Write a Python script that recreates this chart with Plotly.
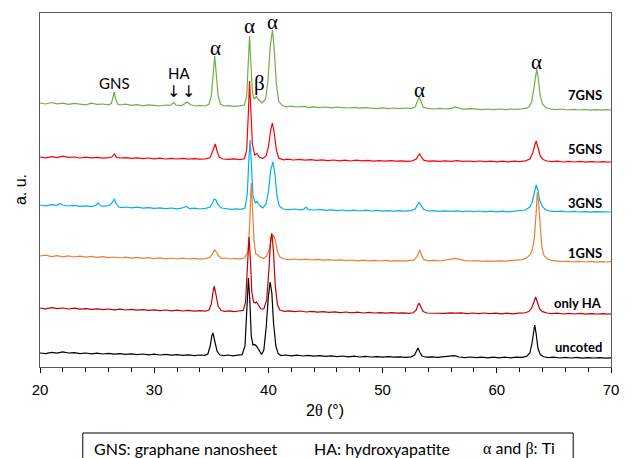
import plotly.graph_objects as go

# ---- data: (2theta, intensity above series baseline) ----
gns7 = [(20.0,7),(20.5,6),(21.0,7.5),(21.5,6.2),(22.0,6.8),(22.5,5.6),(23.0,6.6),(23.5,5.8),(24.0,5.2),(24.5,6.8),(25.0,5.6),(25.5,6.0),(26.0,5.2),(26.25,6.5),(26.4,13),(26.5,18),(26.6,12),(26.8,6),(27.0,5.0),(27.5,5.8),(28.0,4.6),(28.5,5.4),(29.0,4.2),(29.5,5.2),(30.0,4.6),(30.5,4.0),(31.0,5.0),(31.4,4.6),(31.7,7.5),(31.9,5.0),(32.4,4.4),(32.9,8.0),(33.2,5.2),(33.6,4.0),(34.0,4.6),(34.5,4.0),(34.8,6),(35.0,14),(35.15,34),(35.3,54),(35.45,34),(35.6,14),(35.8,6),(36.1,4),(36.5,4.4),(37.0,3.6),(37.5,4.2),(37.9,5),(38.1,14),(38.25,50),(38.35,74),(38.45,50),(38.6,18),(38.75,11),(38.95,13.5),(39.15,10),(39.45,7),(39.75,11),(39.95,28),(40.15,62),(40.35,80),(40.5,62),(40.7,26),(40.9,9),(41.2,4.5),(41.6,3.2),(42.0,3.8),(42.5,3.0),(43.0,3.6),(43.5,2.6),(44.0,3.2),(44.5,2.4),(45.0,3.0),(45.5,2.2),(46.0,3.0),(46.5,2.4),(47.0,2.0),(47.5,2.6),(48.0,1.8),(48.5,2.4),(49.0,1.8),(49.5,1.4),(50.0,2.2),(50.5,1.4),(51.0,2.0),(51.5,1.4),(52.0,2.0),(52.5,1.4),(52.85,3),(53.05,9),(53.2,13),(53.35,9),(53.55,3),(53.9,1.6),(54.5,1.0),(55.0,1.6),(55.5,1.0),(56.0,1.6),(56.4,3.0),(56.8,1.4),(57.2,0.8),(57.7,1.4),(58.2,0.8),(58.7,0.4),(59.2,1.0),(59.7,0.4),(60.2,1.0),(60.7,0.4),(61.2,1.0),(61.7,0.6),(62.2,1.2),(62.6,1.8),(62.85,3.5),(63.05,8),(63.25,22),(63.4,36),(63.5,41),(63.65,30),(63.8,14),(64.0,6),(64.3,2.4),(64.7,1.0),(65.2,0.4),(65.7,1.0),(66.2,0.0),(66.7,0.6),(67.2,0.0),(67.7,0.6),(68.2,-0.2),(68.7,0.4),(69.2,-0.2),(69.6,0.4),(70.0,0.0)]

gns5 = [(20.0,5),(20.5,4.2),(21.0,5.4),(21.5,4.4),(22.0,5.8),(22.5,4.6),(23.0,5.0),(23.5,4.0),(24.0,4.8),(24.5,4.2),(25.0,4.6),(25.5,3.8),(26.0,4.4),(26.3,5),(26.5,8),(26.7,4.6),(27.0,4.0),(27.5,4.4),(28.0,3.6),(28.5,4.2),(29.0,3.4),(29.5,4.0),(30.0,3.2),(30.5,3.8),(31.0,3.0),(31.5,3.6),(32.0,3.0),(32.5,3.6),(33.0,2.8),(33.5,3.4),(34.0,2.8),(34.5,3.2),(34.9,4.5),(35.1,10),(35.25,16),(35.35,18),(35.5,11),(35.7,5),(36.0,3),(36.5,2.6),(37.0,3.2),(37.5,2.4),(37.9,3.2),(38.1,12),(38.25,50),(38.35,81),(38.45,55),(38.6,18),(38.8,7),(39.0,8.5),(39.2,5),(39.5,3.5),(39.8,6),(40.0,15),(40.2,32),(40.35,39),(40.5,30),(40.7,12),(40.9,4),(41.3,2.2),(41.7,2.8),(42.2,2.0),(42.7,2.6),(43.2,1.8),(43.7,2.4),(44.2,1.6),(44.7,2.2),(45.2,1.4),(45.7,2.0),(46.2,1.2),(46.7,1.8),(47.2,1.0),(47.7,1.8),(48.2,1.2),(48.7,1.6),(49.2,0.8),(49.7,1.4),(50.2,0.8),(50.7,1.4),(51.2,0.8),(51.7,1.2),(52.2,0.6),(52.6,1.2),(52.95,3),(53.15,7),(53.25,8),(53.4,5),(53.6,1.8),(54.0,0.8),(54.5,1.2),(55.0,0.6),(55.5,1.2),(56.0,0.6),(56.5,1.4),(57.0,0.6),(57.5,1.0),(58.0,0.4),(58.5,1.0),(59.0,0.4),(59.5,0.8),(60.0,0.2),(60.5,0.8),(61.0,0.2),(61.5,0.8),(62.0,0.4),(62.5,1.2),(62.9,3),(63.15,9),(63.35,18),(63.45,21),(63.6,15),(63.8,6),(64.05,2.5),(64.4,1.0),(64.8,0.4),(65.3,0.8),(65.8,0.0),(66.3,0.6),(66.8,0.0),(67.3,0.6),(67.8,-0.2),(68.3,0.4),(68.8,0.0),(69.3,0.4),(69.7,-0.2),(70.0,0.0)]

gns3 = [(20.0,7),(20.5,6.2),(21.0,7.4),(21.5,6.6),(21.7,8.5),(22.0,7.0),(22.5,6.0),(23.0,6.6),(23.5,5.6),(24.0,6.2),(24.5,5.4),(24.9,6.8),(25.1,9),(25.3,6),(25.7,5.8),(26.1,6.5),(26.35,10),(26.5,13),(26.65,9),(26.9,5),(27.2,4.4),(27.6,5.0),(28.0,4.2),(28.5,4.8),(29.0,3.8),(29.5,4.4),(30.0,3.6),(30.5,4.2),(31.0,3.4),(31.5,4.0),(32.0,3.2),(32.4,3.8),(32.8,5.5),(33.1,3.4),(33.6,3.8),(34.0,3.0),(34.5,3.6),(34.9,5),(35.1,9),(35.25,13),(35.4,12),(35.6,7),(35.9,4),(36.3,3.4),(36.8,2.6),(37.2,3.2),(37.6,2.6),(37.95,4),(38.15,18),(38.3,55),(38.4,72),(38.5,50),(38.65,16),(38.85,9),(39.0,10.5),(39.2,7),(39.5,4),(39.8,8),(40.0,20),(40.2,42),(40.4,50),(40.55,40),(40.75,16),(40.95,6),(41.3,3.0),(41.8,2.4),(42.3,3.0),(42.8,2.2),(43.1,2.8),(43.3,5),(43.5,2.4),(44.0,2.0),(44.5,2.6),(45.0,1.6),(45.5,2.2),(46.0,1.4),(46.5,2.0),(47.0,1.2),(47.5,1.8),(48.0,1.0),(48.5,1.8),(49.0,1.0),(49.5,1.6),(50.0,0.8),(50.5,1.4),(51.0,0.8),(51.5,1.4),(52.0,0.8),(52.5,1.4),(52.85,3),(53.05,8),(53.2,10),(53.35,7),(53.6,2.4),(54.0,1.0),(54.5,1.4),(55.0,0.6),(55.5,1.2),(56.0,0.6),(56.5,1.2),(57.0,0.4),(57.5,1.0),(58.0,0.4),(58.5,1.0),(59.0,0.2),(59.5,0.8),(60.0,0.2),(60.5,0.8),(61.0,0.2),(61.5,0.8),(62.0,0.8),(62.5,2.0),(62.9,5),(63.1,10),(63.3,20),(63.45,27),(63.6,22),(63.75,12),(64.0,5),(64.3,2.2),(64.7,0.8),(65.2,0.4),(65.7,0.8),(66.2,0.0),(66.7,0.6),(67.2,0.0),(67.7,0.4),(68.2,-0.2),(68.7,0.4),(69.2,0.0),(69.6,0.4),(70.0,0.0)]

gns1 = [(20.0,6),(20.5,6.8),(21.0,5.4),(21.5,6.4),(22.0,5.2),(22.5,6.2),(23.0,5.0),(23.5,5.8),(24.0,4.8),(24.5,5.6),(25.0,4.6),(25.5,5.4),(26.0,4.4),(26.5,5.0),(27.0,4.0),(27.5,4.8),(28.0,3.8),(28.5,4.6),(29.0,3.6),(29.5,4.4),(30.0,3.4),(30.5,4.2),(31.0,3.2),(31.5,4.0),(32.0,3.0),(32.5,3.8),(33.0,3.0),(33.5,3.6),(34.0,2.8),(34.5,3.4),(34.9,5),(35.15,9),(35.3,12),(35.45,10),(35.65,6),(35.9,3.6),(36.3,4.0),(36.7,3.0),(37.1,3.6),(37.5,2.8),(37.9,4),(38.2,10),(38.35,35),(38.5,79),(38.6,60),(38.75,20),(38.9,8),(39.05,7.5),(39.25,5),(39.55,3.5),(39.85,6),(40.05,12),(40.25,22),(40.45,27),(40.6,22),(40.8,10),(41.0,5),(41.4,3.0),(41.8,2.4),(42.3,3.0),(42.8,2.2),(43.3,2.8),(43.8,2.0),(44.3,2.6),(44.8,1.8),(45.3,2.4),(45.8,1.6),(46.3,2.2),(46.8,1.4),(47.3,2.0),(47.8,1.2),(48.3,1.8),(48.8,1.2),(49.3,1.6),(49.8,1.0),(50.3,1.6),(50.8,0.8),(51.3,1.4),(51.8,0.8),(52.3,1.4),(52.7,1.8),(53.0,5),(53.15,10),(53.25,12),(53.4,7),(53.6,2.6),(54.0,1.2),(54.5,1.6),(55.0,1.0),(55.5,1.8),(56.0,2.6),(56.4,3.6),(56.8,2.4),(57.2,1.4),(57.7,1.0),(58.2,1.4),(58.7,0.6),(59.2,1.2),(59.7,0.6),(60.2,1.2),(60.7,0.8),(61.2,1.4),(61.7,1.4),(62.2,2.4),(62.6,4),(62.9,7),(63.1,12),(63.3,25),(63.45,50),(63.55,70),(63.65,60),(63.8,32),(63.95,14),(64.15,6),(64.45,3),(64.8,1.6),(65.2,1.0),(65.7,0.4),(66.2,0.8),(66.7,0.0),(67.2,0.6),(67.7,0.0),(68.2,0.6),(68.7,-0.2),(69.2,0.4),(69.6,0.0),(70.0,0.4)]

only_ha = [(20.0,6),(20.5,5.2),(21.0,6.4),(21.5,5.4),(22.0,6.0),(22.5,5.0),(23.0,5.8),(23.5,4.8),(24.0,5.4),(24.5,4.6),(25.0,5.2),(25.5,4.4),(26.0,5.0),(26.5,4.2),(27.0,4.8),(27.5,4.0),(28.0,4.6),(28.5,3.8),(29.0,4.4),(29.5,3.6),(30.0,4.2),(30.5,3.4),(31.0,4.0),(31.5,3.2),(32.0,3.8),(32.5,3.0),(33.0,3.6),(33.5,2.8),(34.0,3.4),(34.5,2.8),(34.8,4),(35.0,10),(35.15,22),(35.25,28),(35.4,20),(35.6,8),(35.85,3.5),(36.2,2.6),(36.6,3.2),(37.0,2.4),(37.4,3.0),(37.8,3.6),(38.0,12),(38.15,45),(38.3,77),(38.42,55),(38.55,22),(38.7,12),(38.85,11),(38.95,12),(39.1,9),(39.35,5),(39.6,5),(39.85,14),(40.05,45),(40.2,75),(40.3,81),(40.45,62),(40.6,28),(40.8,9),(41.0,4),(41.4,2.6),(41.8,3.2),(42.3,2.4),(42.8,3.0),(43.3,2.0),(43.8,2.6),(44.3,1.8),(44.8,2.4),(45.3,1.6),(45.8,2.2),(46.3,1.4),(46.8,2.0),(47.3,1.2),(47.8,1.8),(48.3,1.0),(48.8,1.6),(49.3,1.0),(49.8,1.4),(50.3,0.8),(50.8,1.4),(51.3,0.8),(51.8,1.2),(52.3,0.6),(52.7,1.2),(52.95,4),(53.1,9),(53.2,11),(53.35,7),(53.55,2.4),(53.9,1.0),(54.4,0.8),(54.9,1.2),(55.4,0.6),(55.9,1.2),(56.4,0.8),(56.9,1.2),(57.4,0.4),(57.9,1.0),(58.4,0.4),(58.9,1.0),(59.4,0.4),(59.9,0.8),(60.4,0.2),(60.9,0.8),(61.4,0.2),(61.9,0.8),(62.4,1.0),(62.8,2.4),(63.05,6),(63.25,12),(63.4,17),(63.55,12),(63.75,5),(64.0,2.4),(64.4,1.0),(64.8,0.4),(65.3,0.8),(65.8,0.0),(66.3,0.6),(66.8,0.0),(67.3,0.6),(67.8,-0.2),(68.3,0.4),(68.8,0.0),(69.3,0.4),(69.7,-0.2),(70.0,0.2)]

uncoted = [(20.0,5),(20.5,4.4),(21.0,5.6),(21.5,4.8),(22.0,6.2),(22.5,5.0),(23.0,5.4),(23.5,4.4),(24.0,5.0),(24.5,4.2),(25.0,4.8),(25.5,4.0),(26.0,4.6),(26.5,3.8),(27.0,4.4),(27.5,3.6),(28.0,4.2),(28.5,3.4),(29.0,4.0),(29.5,3.2),(30.0,3.8),(30.5,3.0),(31.0,3.6),(31.5,2.8),(32.0,3.4),(32.5,2.6),(33.0,3.2),(33.5,2.4),(34.0,3.0),(34.4,2.6),(34.7,4),(34.9,12),(35.05,22),(35.15,25),(35.3,17),(35.5,7),(35.75,3),(36.1,2.4),(36.5,3.0),(36.9,2.2),(37.3,2.8),(37.7,3.4),(37.95,12),(38.1,45),(38.25,80),(38.37,58),(38.5,22),(38.65,13),(38.8,13.5),(38.95,12),(39.15,8),(39.4,3.5),(39.6,8),(39.8,30),(40.0,62),(40.15,76),(40.3,65),(40.45,35),(40.65,12),(40.85,4.5),(41.1,2.4),(41.5,3.0),(42.0,2.2),(42.5,2.8),(43.0,2.0),(43.5,2.6),(44.0,1.8),(44.5,2.4),(45.0,1.6),(45.5,2.2),(46.0,1.4),(46.5,2.0),(47.0,1.2),(47.5,1.8),(48.0,1.0),(48.5,1.6),(49.0,1.0),(49.5,1.4),(50.0,0.8),(50.5,1.4),(51.0,0.8),(51.5,1.2),(52.0,0.6),(52.5,1.2),(52.8,3),(53.0,8),(53.1,10),(53.25,6),(53.45,2),(53.8,0.8),(54.3,1.2),(54.8,0.6),(55.3,1.0),(55.8,1.4),(56.3,2.4),(56.7,1.0),(57.2,0.4),(57.7,1.0),(58.2,0.4),(58.7,0.8),(59.2,0.2),(59.7,0.8),(60.2,0.2),(60.7,0.8),(61.2,0.2),(61.7,0.8),(62.2,0.6),(62.6,1.6),(62.9,5),(63.1,16),(63.25,30),(63.32,33),(63.45,24),(63.6,10),(63.8,3.5),(64.1,1.2),(64.5,0.4),(65.0,0.8),(65.5,0.0),(66.0,0.6),(66.5,0.0),(67.0,0.6),(67.5,-0.2),(68.0,0.4),(68.5,0.0),(69.0,0.4),(69.5,-0.2),(70.0,0.2)]

series_names = ["7GNS", "5GNS", "3GNS", "1GNS", "only HA", "uncoted"]
series_data = [gns7, gns5, gns3, gns1, only_ha, uncoted]
series_offsets = [257, 205, 155, 105, 53, 9]
series_colors = ["#70AD47", "#FF0000", "#00B0F0", "#ED7D31", "#C00000", "#000000"]
label_heights = [272, 218, 164, 114, 64, 20]

# peak labels: (text, 2theta, height)
peak_labels = [("α", 35.35, 319), ("α", 38.35, 341), ("α", 40.4, 345), ("β", 39.2, 284),
               ("α", 53.2, 277), ("α", 63.5, 305)]
x_ticks = [20, 30, 40, 50, 60, 70]

W, H = 631, 458
L, R, T, B = 40, 17, 13, 91
pw, ph = W - L - R, H - T - B

def px(xp):
    return (xp - L) / pw

def py(yp):
    return (H - B - yp) / ph

fig = go.Figure()
for name, data, off, col in zip(series_names, series_data, series_offsets, series_colors):
    fig.add_trace(go.Scatter(
        x=[p[0] for p in data], y=[p[1] + off for p in data],
        mode="lines", name=name, line=dict(color=col, width=1.2),
        showlegend=False, hoverinfo="skip"))

ann = []
serif = "Liberation Serif, DejaVu Serif, serif"
sans = "Lato, Open Sans, sans-serif"
for t, x, y in peak_labels:
    ann.append(dict(x=x, y=y, xref="x", yref="y", text=t, showarrow=False,
                    font=dict(family=serif, size=21, color="#000")))
ann.append(dict(x=26.5, y=367 - 83, xref="x", yref="y", text="GNS", showarrow=False,
                font=dict(family=sans, size=15, color="#000")))
ann.append(dict(x=32.2, y=367 - 73, xref="x", yref="y", text="HA", showarrow=False,
                font=dict(family=sans, size=15, color="#000")))
for xa in [31.7, 33.0]:
    ann.append(dict(x=xa, y=367 - 91, xref="x", yref="y", text="↓", showarrow=False,
                    font=dict(family="DejaVu Sans", size=16, color="#000")))
for name, yv in zip(series_names, label_heights):
    ann.append(dict(x=px(607), y=yv, xref="paper", yref="y", text="<b>%s</b>" % name,
                    xanchor="right", showarrow=False,
                    font=dict(family=sans, size=13, color="#000")))
ann.append(dict(x=px(20), y=0.5, xref="paper", yref="paper", text="a. u.", textangle=-90,
                xanchor="center", yanchor="middle",
                showarrow=False, font=dict(family="Liberation Sans, Arial", size=16, color="#000")))
ann.append(dict(x=px(326), y=py(410), xref="paper", yref="paper",
                xanchor="center", yanchor="middle",
                text='2<span style="font-family:Liberation Serif">θ</span> (°)',
                showarrow=False, font=dict(family="Liberation Sans, Arial", size=16, color="#000")))
box_texts = [("GNS: graphane nanosheet", 92), ("HA: hydroxyapatite", 313),
             ('<span style="font-family:Liberation Serif">α</span> and '
              '<span style="font-family:Liberation Serif">β</span>: Ti', 483)]
for t, xp in box_texts:
    ann.append(dict(x=px(xp), y=py(448), xref="paper", yref="paper", text=t, xanchor="left",
                    yanchor="middle",
                    showarrow=False, font=dict(family=sans, size=16, color="#000")))

fig.update_layout(
    width=W, height=H, margin=dict(l=L, r=R, t=T, b=B),
    paper_bgcolor="white", plot_bgcolor="white",
    annotations=ann,
    shapes=[dict(type="rect", xref="paper", yref="paper", x0=px(83), x1=px(576),
                 y0=py(433), y1=py(475), line=dict(color="#000", width=1))],
    xaxis=dict(range=[20, 70], tickvals=x_ticks, ticks="outside", ticklen=5, tickwidth=1,
               tickcolor="#000", showline=True, linecolor="#595959", linewidth=1, mirror=True,
               showgrid=False, zeroline=False, ticklabelstandoff=4,
               tickfont=dict(family="Liberation Sans, Arial", size=15, color="#000"),
               minor=dict(dtick=2, ticks="outside", ticklen=4, tickcolor="#000", showgrid=False)),
    yaxis=dict(range=[0, ph], showticklabels=False, ticks="", showline=True,
               linecolor="#595959", linewidth=1, mirror=True, showgrid=False, zeroline=False),
)
fig.write_html("out.html")
